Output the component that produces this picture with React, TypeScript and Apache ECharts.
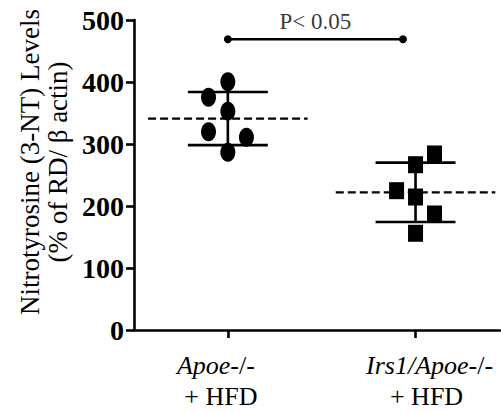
import React, { useEffect, useRef } from "react";
import * as echarts from "echarts";

const categories = ["Apoe", "Irs1/Apoe"];
const categoryX = [1, 2];
const yTicks = [0, 100, 200, 300, 400, 500];
// Apoe-/- + HFD (circles)
const groupAX = [1.0, 0.897, 1.0, 0.897, 1.099, 1.0];
const groupAY = [400.5, 375.3, 353, 319.8, 310.8, 286.6];
// Irs1/Apoe-/- + HFD (squares)
const groupBX = [2.101, 2.0, 1.899, 2.0, 2.101, 2.0];
const groupBY = [283.9, 266.6, 224.7, 214.5, 187.1, 156];
const sigY = 469;
const sigText = "P< 0.05";

const FONT = "Liberation Serif, Times New Roman, serif";

function meanSd(v: number[]) {
  const m = v.reduce((a, b) => a + b, 0) / v.length;
  const sd = Math.sqrt(v.reduce((a, b) => a + (b - m) * (b - m), 0) / (v.length - 1));
  return [m, sd];
}

function seg(data: number[][], dashed: boolean, width: number) {
  return {
    type: "line",
    data,
    symbol: "none",
    silent: true,
    z: 2,
    lineStyle: { color: "#000", width, type: dashed ? [8, 4] : "solid" },
  };
}

const base = { fontFamily: FONT, fontSize: 26, color: "#000", lineHeight: 31 };

export default function App() {
  const ref = useRef<HTMLDivElement>(null);
  useEffect(() => {
    if (!ref.current) return;
    const chart = echarts.init(ref.current, null, { renderer: "svg" });
    const groups = [
      { cx: categoryX[0], ys: groupAY },
      { cx: categoryX[1], ys: groupBY },
    ];
    const extra: any[] = [];
    groups.forEach((g) => {
      const [m, sd] = meanSd(g.ys);
      extra.push(seg([[g.cx - 0.425, m], [g.cx + 0.425, m]], true, 2.2));
      extra.push(seg([[g.cx - 0.213, m + sd], [g.cx + 0.213, m + sd]], false, 2.6));
      extra.push(seg([[g.cx - 0.213, m - sd], [g.cx + 0.213, m - sd]], false, 2.6));
      extra.push(seg([[g.cx, m - sd], [g.cx, m + sd]], false, 2.6));
    });
    chart.setOption({
      animation: false,
      grid: { left: 134, right: 1, top: 20, bottom: 83, containLabel: false },
      xAxis: {
        type: "value",
        min: 0.5,
        max: 2.45,
        splitLine: { show: false },
        axisLine: { show: true, lineStyle: { color: "#000", width: 2.6 } },
        axisTick: {
          show: true,
          customValues: categoryX,
          length: 8,
          lineStyle: { color: "#000", width: 2.6 },
        },
        axisLabel: {
          show: true,
          customValues: categoryX,
          margin: 20,
          formatter: (v: number) => {
            const i = categoryX.indexOf(v);
            if (i === 0) {
              return "{i|" + categories[i] + "}{a1|-/-}\n{a2|+ HFD}";
            }
            return "{b1|" + categories[i] + "}{n|-/-}\n{b2|+ HFD}";
          },
          rich: {
            i: { ...base, fontStyle: "italic" },
            n: { ...base },
            a1: { ...base, padding: [0, 24, 0, 0] },
            a2: { ...base, padding: [0, 14, 0, 0] },
            b1: { ...base, fontStyle: "italic", padding: [0, 0, 0, 28] },
            b2: { ...base, padding: [0, 0, 0, 22] },
          },
        },
      },
      yAxis: {
        type: "value",
        min: yTicks[0],
        max: yTicks[yTicks.length - 1],
        interval: 100,
        splitLine: { show: false },
        axisLine: { show: true, lineStyle: { color: "#000", width: 2.6 } },
        axisTick: { show: true, length: 8, lineStyle: { color: "#000", width: 2.6 } },
        axisLabel: {
          margin: 10,
          fontFamily: FONT,
          fontSize: 28,
          fontWeight: "bold",
          color: "#000",
        },
      },
      graphic: [
        {
          type: "text",
          x: 44,
          y: 162,
          rotation: Math.PI / 2,
          style: {
            text: "Nitrotyrosine (3-NT) Levels\n(% of RD/ β actin)",
            fontFamily: FONT,
            fontSize: 27,
            fill: "#000",
            align: "center",
            verticalAlign: "middle",
            lineHeight: 28,
          },
        },
      ],
      series: [
        ...extra,
        {
          type: "line",
          data: [[categoryX[0], sigY], [1.933, sigY]],
          symbol: "circle",
          symbolSize: 8,
          showSymbol: true,
          itemStyle: { color: "#000" },
          lineStyle: { color: "#000", width: 2.4 },
          z: 3,
        },
        {
          type: "scatter",
          data: [[(categoryX[0] + 1.933) / 2, sigY]],
          symbolSize: 0,
          label: {
            show: true,
            position: "top",
            distance: 6,
            formatter: sigText,
            fontFamily: FONT,
            fontSize: 23,
            color: "#000",
          },
        },
        {
          type: "scatter",
          data: groupAX.map((x, i) => [x, groupAY[i]]),
          symbol: "circle",
          symbolSize: [15, 19],
          itemStyle: { color: "#000", opacity: 1 },
          z: 5,
        },
        {
          type: "scatter",
          data: groupBX.map((x, i) => [x, groupBY[i]]),
          symbol: "rect",
          symbolSize: [15, 17],
          itemStyle: { color: "#000", opacity: 1 },
          z: 5,
        },
      ],
    });
    return () => chart.dispose();
  }, []);
  return <div ref={ref} style={{ width: 501, height: 413, position: "absolute", left: 0, top: 0 }} />;
}
